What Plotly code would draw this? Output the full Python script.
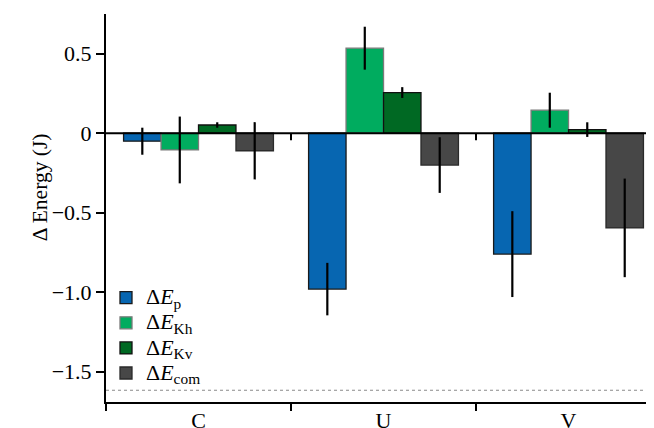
import plotly.graph_objects as go

categories = ["C", "U", "V"]
x_pos = [0, 1, 2]

series_names = ["Δ<i>E</i><sub>p</sub>", "Δ<i>E</i><sub>Kh</sub>", "Δ<i>E</i><sub>Kv</sub>", "Δ<i>E</i><sub>com</sub>"]
dE_p = [-0.05, -0.98, -0.76]
dE_Kh = [-0.105, 0.535, 0.145]
dE_Kv = [0.052, 0.256, 0.023]
dE_com = [-0.11, -0.20, -0.595]

err_p = [0.085, 0.165, 0.27]
err_Kh = [0.21, 0.135, 0.11]
err_Kv = [0.017, 0.034, 0.046]
err_com = [0.18, 0.175, 0.31]

fill_colors = ["#0766B1", "#00AC5F", "#006923", "#474747"]
line_colors = ["#1a1a1a", "#7a7a7a", "#111111", "#2a2a2a"]

ref_level = -1.616
y_tickvals = [-1.5, -1.0, -0.5, 0, 0.5]
y_ticktext = ["−1.5", "−1.0", "−0.5", "0", "0.5"]

values = [dE_p, dE_Kh, dE_Kv, dE_com]
errors = [err_p, err_Kh, err_Kv, err_com]

font_family = "Liberation Serif"

fig = go.Figure()
for name, v, e, fc, lc in zip(series_names, values, errors, fill_colors, line_colors):
    fig.add_trace(go.Bar(
        x=x_pos, y=v, name='<span style="font-size:22px">' + name + '</span>',
        marker=dict(color=fc, line=dict(color=lc, width=1.3)),
        error_y=dict(type="data", array=e, visible=True, color="black",
                     thickness=2.2, width=0),
    ))

# zero line and small boundary ticks on it
fig.add_shape(type="line", xref="paper", x0=0, x1=1, yref="y", y0=0, y1=0,
              line=dict(color="black", width=2), layer="above")
for b in [0.5, 1.5]:
    fig.add_shape(type="line", xref="x", x0=b, x1=b, yref="y",
                  ysizemode="pixel", yanchor=0, y0=0, y1=-7,
                  line=dict(color="black", width=2))
# dotted reference line
fig.add_shape(type="line", xref="paper", x0=0, x1=1, yref="y",
              y0=ref_level, y1=ref_level,
              line=dict(color="#8a8a8a", width=1.2, dash="dot"), layer="below")

fig.add_annotation(text="Δ Energy (J)", textangle=-90, xref="paper", yref="paper",
                   x=-0.12, y=0.554, xanchor="center", yanchor="middle",
                   showarrow=False,
                   font=dict(size=21.5, family=font_family, color="black"))

# page body has an 8px margin: shrink figure and margins to compensate
fig.update_layout(
    width=646, height=420,
    margin=dict(l=98, r=0, t=6, b=26, autoexpand=False),
    paper_bgcolor="white", plot_bgcolor="white",
    barmode="group", bargap=0.19, bargroupgap=0,
    font=dict(family=font_family, size=21, color="black"),
    showlegend=True,
    legend=dict(x=0.0, y=0.314, xanchor="left", yanchor="top",
                bgcolor="rgba(0,0,0,0)", font=dict(size=17, family=font_family),
                tracegroupgap=0, itemwidth=30),
    xaxis=dict(range=[-0.5, 2.462], tickmode="array", tickvals=x_pos,
               ticktext=categories, ticks="", showline=True, linecolor="black",
               linewidth=2, showgrid=False, zeroline=False, automargin=False,
               ticklabelstandoff=-2,
               minor=dict(ticks="outside", tick0=-0.5, dtick=1, ticklen=7,
                          tickwidth=2, tickcolor="black", showgrid=False),
               tickfont=dict(size=22)),
    yaxis=dict(range=[-1.69, 0.75], tickmode="array", tickvals=y_tickvals,
               ticktext=y_ticktext, ticks="outside", ticklen=8, tickwidth=2,
               tickcolor="black", showline=True, linecolor="black", linewidth=2,
               showgrid=False, zeroline=False, automargin=False,
               tickfont=dict(size=22)),
)

fig.write_html("out.html")
